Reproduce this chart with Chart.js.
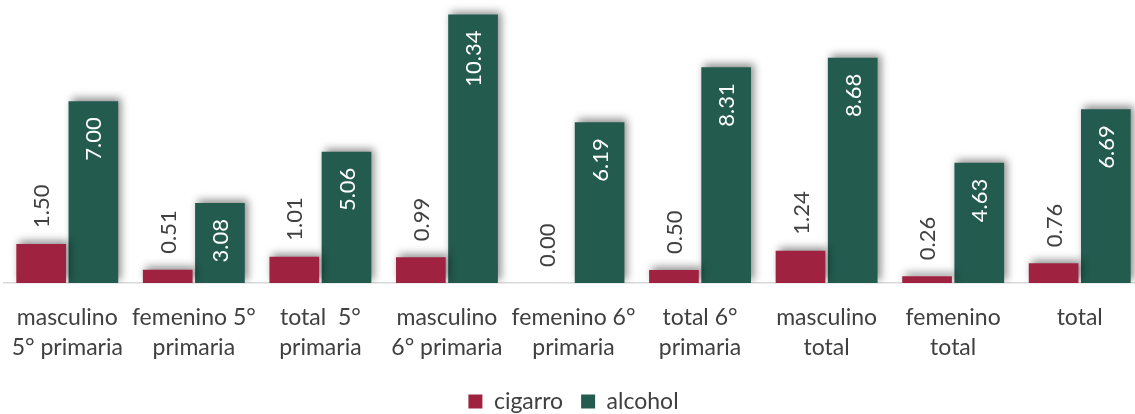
<!DOCTYPE html>
<html>
<head>
<meta charset="utf-8">
<script src="https://cdn.jsdelivr.net/npm/chart.js@4"></script>
<style>
  html, body { margin: 0; padding: 0; background: #fff; overflow: hidden; }
  #wrap { position: relative; width: 1146px; height: 414px; }
</style>
</head>
<body>
<div id="wrap"><canvas id="chart"></canvas></div>
<script>
const categories = [
  ['masculino', '5° primaria'],
  ['femenino 5°', 'primaria'],
  ['total  5°', 'primaria'],
  ['masculino', '6° primaria'],
  ['femenino 6°', 'primaria'],
  ['total 6°', 'primaria'],
  ['masculino', 'total'],
  ['femenino', 'total'],
  ['total']
];
const cigarro = [1.50, 0.51, 1.01, 0.99, 0.00, 0.50, 1.24, 0.26, 0.76];
const alcohol = [7.00, 3.08, 5.06, 10.34, 6.19, 8.31, 8.68, 4.63, 6.69];

const FONT = 'Lato, "Source Sans Pro", sans-serif';

// excel style soft shadow behind the bars
const barShadow = {
  id: 'barShadow',
  beforeDatasetDraw(chart) {
    const ctx = chart.ctx;
    ctx.save();
    ctx.shadowColor = 'rgba(0,0,0,0.45)';
    ctx.shadowBlur = 8;
    ctx.shadowOffsetX = 3;
    ctx.shadowOffsetY = -3;
  },
  afterDatasetDraw(chart) {
    chart.ctx.restore();
  }
};

// rotated value labels: outside end for cigarro, inside end for alcohol
const valueLabels = {
  id: 'valueLabels',
  afterDatasetsDraw(chart) {
    const ctx = chart.ctx;
    chart.data.datasets.forEach((ds, i) => {
      const meta = chart.getDatasetMeta(i);
      meta.data.forEach((bar, j) => {
        const txt = ds.data[j].toFixed(2);
        ctx.save();
        ctx.font = '22px ' + FONT;
        ctx.textBaseline = 'middle';
        if (i === 0) {
          ctx.translate(bar.x, bar.y - 16);
          ctx.rotate(-Math.PI / 2);
          ctx.textAlign = 'left';
          ctx.fillStyle = '#404040';
        } else {
          ctx.translate(bar.x, bar.y + 16);
          ctx.rotate(-Math.PI / 2);
          ctx.textAlign = 'right';
          ctx.fillStyle = '#ffffff';
        }
        ctx.fillText(txt, 0, 1);
        ctx.restore();
      });
    });
  }
};

new Chart(document.getElementById('chart'), {
  type: 'bar',
  data: {
    labels: categories,
    datasets: [{
      label: 'cigarro',
      data: cigarro,
      backgroundColor: '#9F2241'
    }, {
      label: 'alcohol',
      data: alcohol,
      backgroundColor: '#235B4E'
    }]
  },
  options: {
    responsive: true,
    maintainAspectRatio: false,
    animation: false,
    datasets: {
      bar: { categoryPercentage: 0.825, barPercentage: 0.952 }
    },
    layout: { padding: { left: 4, right: 3, top: 0, bottom: -9 } },
    scales: {
      x: {
        grid: { display: false, drawTicks: false },
        border: { color: '#d9d9d9', width: 1.5 },
        ticks: {
          color: '#404040',
          font: { family: FONT, size: 23, lineHeight: 1.3 },
          padding: 20,
          maxRotation: 0,
          autoSkip: false
        },
        afterFit(s) {
          s.paddingLeft = 0;
          s.paddingRight = 0;
          s.height = 89;
        }
      },
      y: {
        display: false,
        min: 0,
        max: 10.9
      }
    },
    plugins: {
      legend: {
        position: 'bottom',
        labels: {
          color: '#404040',
          font: { family: FONT, size: 23 },
          boxWidth: 14,
          boxHeight: 14,
          padding: 18
        }
      },
      tooltip: { enabled: false }
    }
  },
  plugins: [barShadow, valueLabels]
});
</script>
</body>
</html>
